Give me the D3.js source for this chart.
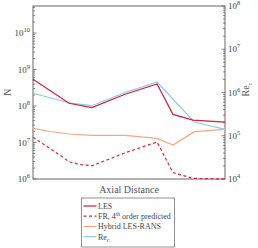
<!DOCTYPE html>
<html>
<head>
<meta charset="utf-8">
<script src="https://cdnjs.cloudflare.com/ajax/libs/d3/7.8.5/d3.min.js"></script>
<style>
  body { margin: 0; background: #fff; }
  svg { font-family: 'Liberation Serif', 'Times New Roman', Times, serif; }
  svg text { fill: #444; }
</style>
</head>
<body>
<script>
// axial position (fraction of the plotted length) and values
var xLES = [0, 0.1875, 0.307, 0.479, 0.646, 0.729, 0.833, 1];
var nLES = [5.4e8, 1.19e8, 9.0e7, 2.1e8, 4.0e8, 5.9e7, 4.1e7, 3.6e7];

var xFR = [0, 0.125, 0.1875, 0.245, 0.307, 0.479, 0.646, 0.729, 0.833, 1];
var nFR = [1.4e7, 5.1e6, 3.0e6, 2.5e6, 2.3e6, 5.2e6, 1.03e7, 1.5e6, 1.04e6, 1.0e6];

var xHyb = [0, 0.089, 0.1875, 0.307, 0.479, 0.646, 0.729, 0.84, 1];
var nHyb = [2.45e7, 2.0e7, 1.71e7, 1.56e7, 1.56e7, 1.30e7, 8.5e6, 1.98e7, 2.3e7];

var xRe = [0, 0.1875, 0.307, 0.479, 0.646, 0.84, 1];
var reC = [9.6e5, 5.8e5, 4.95e5, 1.0e6, 1.75e6, 2.08e5, 1.41e5];

var leftTicks = [1e6, 1e7, 1e8, 1e9, 1e10];
var rightTicks = [1e4, 1e5, 1e6, 1e7, 1e8];

var margin = {top: 6, right: 33, bottom: 69, left: 33},
  width = 258 - margin.left - margin.right,
  height = 248 - margin.top - margin.bottom;

var svg = d3.select("body").append("svg")
  .attr("width", 258)
  .attr("height", 248)
  .attr("font-family", "'Liberation Serif', 'Times New Roman', serif")
  .append("g")
  .attr("transform", "translate(" + margin.left + "," + margin.top + ")");

var x = d3.scaleLinear().domain([0, 1]).range([0, width]);
var yL = d3.scaleLog().domain([1e6, 5.5e10]).range([height, 0]);
var yR = d3.scaleLog().domain([1e4, 1e8]).range([height, 0]);

// frame
svg.append("rect")
  .attr("width", width).attr("height", height)
  .attr("fill", "none").attr("stroke", "#666").attr("stroke-width", 1);

// log ticks drawn inward
function minorTicks(scale) {
  var d = scale.domain(), out = [];
  for (var e = Math.floor(Math.log10(d[0])); e <= Math.ceil(Math.log10(d[1])); e++) {
    for (var k = 1; k < 10; k++) {
      var v = k * Math.pow(10, e);
      if (v >= d[0] && v <= d[1]) out.push({v: v, major: k === 1});
    }
  }
  return out;
}

svg.selectAll("line.tl").data(minorTicks(yL)).enter().append("line")
  .attr("class", "tl")
  .attr("x1", 0).attr("x2", function(d) { return d.major ? 3.5 : 2; })
  .attr("y1", function(d) { return yL(d.v); }).attr("y2", function(d) { return yL(d.v); })
  .attr("stroke", "#666").attr("stroke-width", 0.8);

svg.selectAll("line.tr").data(minorTicks(yR)).enter().append("line")
  .attr("class", "tr")
  .attr("x1", width).attr("x2", function(d) { return width - (d.major ? 3.5 : 2); })
  .attr("y1", function(d) { return yR(d.v); }).attr("y2", function(d) { return yR(d.v); })
  .attr("stroke", "#666").attr("stroke-width", 0.8);

function powLabel(sel, v) {
  sel.append("tspan").text("10");
  sel.append("tspan").attr("dy", -4).style("font-size", "6.5px").text(Math.round(Math.log10(v)));
}

svg.selectAll("text.ll").data(leftTicks).enter().append("text")
  .attr("class", "ll")
  .attr("x", -3).attr("y", function(d) { return yL(d) + 3; })
  .attr("text-anchor", "end").style("font-size", "9px")
  .each(function(d) { powLabel(d3.select(this), d); });

svg.selectAll("text.rl").data(rightTicks).enter().append("text")
  .attr("class", "rl")
  .attr("x", width + 3).attr("y", function(d) { return yR(d) + 3; })
  .style("font-size", "9px")
  .each(function(d) { powLabel(d3.select(this), d); });

// axis titles
svg.append("text")
  .attr("transform", "translate(-22," + (height / 2) + ") rotate(-90)")
  .attr("text-anchor", "middle").style("font-size", "10px").style("fill", "#555").text("N");

var reT = svg.append("text")
  .attr("transform", "translate(" + (width + 24) + "," + (height / 2 - 3) + ") rotate(-90)")
  .attr("text-anchor", "middle").style("font-size", "10px").style("fill", "#555");
reT.append("tspan").text("Re");
reT.append("tspan").attr("dy", 3).style("font-size", "6.5px").text("c");

svg.append("text")
  .attr("x", width / 2).attr("y", height + 14)
  .attr("text-anchor", "middle").style("font-size", "10px").style("fill", "#555").text("Axial Distance");

// series
function pts(xs, ys) { return xs.map(function(v, i) { return [v, ys[i]]; }); }
var lineL = d3.line().x(function(d) { return x(d[0]); }).y(function(d) { return yL(d[1]); });
var lineR = d3.line().x(function(d) { return x(d[0]); }).y(function(d) { return yR(d[1]); });

var series = [
  {name: "Hybrid", path: lineL(pts(xHyb, nHyb)), color: "#f8a681", dash: null},
  {name: "Re", path: lineR(pts(xRe, reC)), color: "#8ecbe8", dash: null},
  {name: "FR", path: lineL(pts(xFR, nFR)), color: "#d8264a", dash: "3,2.5"},
  {name: "LES", path: lineL(pts(xLES, nLES)), color: "#d21f3c", dash: null}
];

svg.selectAll("path.series").data(series).enter().append("path")
  .attr("class", "series")
  .attr("d", function(d) { return d.path; })
  .attr("fill", "none")
  .attr("stroke", function(d) { return d.color; })
  .attr("stroke-width", 1.2)
  .attr("stroke-dasharray", function(d) { return d.dash; });

// legend
var lg = svg.append("g").attr("transform", "translate(" + (81.5 - margin.left) + "," + (198 - margin.top) + ")");
lg.append("rect").attr("width", 93).attr("height", 49)
  .attr("fill", "#fff").attr("stroke", "#777").attr("stroke-width", 0.8);

var legendItems = [
  {label: "LES", color: "#d21f3c", dash: null},
  {label: "FR", color: "#d8264a", dash: "3,2.5"},
  {label: "Hybrid LES-RANS", color: "#f8a681", dash: null},
  {label: "Re", color: "#8ecbe8", dash: null}
];

var item = lg.selectAll("g.item").data(legendItems).enter().append("g")
  .attr("class", "item")
  .attr("transform", function(d, i) { return "translate(0," + (8 + i * 10.2) + ")"; });

item.append("line")
  .attr("x1", 2).attr("x2", 15)
  .attr("stroke", function(d) { return d.color; })
  .attr("stroke-width", 1.2)
  .attr("stroke-dasharray", function(d) { return d.dash; });

item.append("text")
  .attr("x", 16.5).attr("y", 3)
  .style("font-size", "8px")
  .each(function(d) {
    var t = d3.select(this);
    if (d.label === "FR") {
      t.append("tspan").text("FR, 4");
      t.append("tspan").attr("dy", -3).style("font-size", "5.5px").text("th");
      t.append("tspan").attr("dy", 3).text(" order predicted");
    } else if (d.label === "Re") {
      t.append("tspan").text("Re");
      t.append("tspan").attr("dy", 2).style("font-size", "5.5px").text("c");
    } else {
      t.text(d.label);
    }
  });
</script>
</body>
</html>
